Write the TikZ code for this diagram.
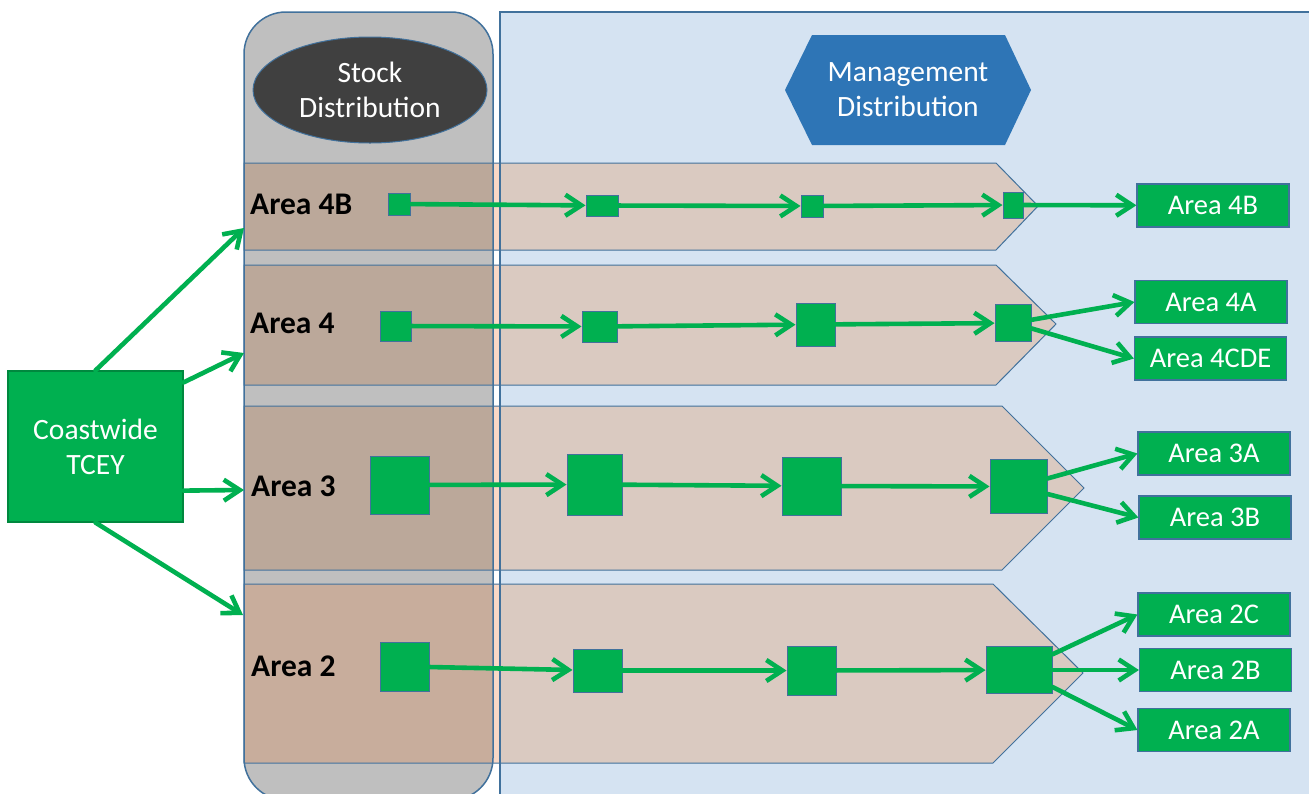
\documentclass[tikz,border=0pt]{standalone}
\usepackage{fontspec}
\setmainfont{Carlito}
\usetikzlibrary{arrows.meta,calc,shapes.geometric}

\definecolor{bgblue}{HTML}{D5E3F2}
\definecolor{edgeblue}{HTML}{41719C}
\definecolor{stockgray}{HTML}{BFBFBF}
\definecolor{bandonblue}{HTML}{DACAC1}
\definecolor{bandongray}{HTML}{BBA89A}
\definecolor{bandtwogray}{HTML}{C8AD9C}
\definecolor{bandstrip}{HTML}{F9D8C6}
\definecolor{darkoval}{HTML}{404040}
\definecolor{hexblue}{HTML}{2E75B6}
\definecolor{tceygreen}{HTML}{00B050}
\definecolor{tceyedge}{HTML}{00883E}

% area band: fill over the blue part, then the stock part and the gap strip
\newcommand{\areaband}[6]{%
  \fill[bandonblue] (244,#1) -- (#3,#1) -- (#4,#5) -- (#3,#2) -- (244,#2) -- cycle;
  \fill[#6] (244,#1) rectangle (493,#2);
  \fill[bandstrip] (493,#1) rectangle (500,#2);
  \draw[bandedge] (244,#1) -- (#3,#1) -- (#4,#5) -- (#3,#2) -- (244,#2) -- cycle;
}

\begin{document}
\begin{tikzpicture}[x=1pt,y=-1pt,
  flow/.style={draw=tceygreen, line width=4.6pt, line cap=round, line join=round,
    -{Straight Barb[length=16pt,width=21pt]}},
  sq/.style={draw=edgeblue, fill=tceygreen, line width=1pt, inner sep=0pt},
  lbl/.style={draw=edgeblue, fill=tceygreen, line width=1.2pt, text=white,
    minimum width=152pt, minimum height=43pt, inner sep=0pt,
    font=\fontsize{28.5}{34}\selectfont},
  arealbl/.style={anchor=west, inner sep=0pt, font=\bfseries\fontsize{31.5}{36}\selectfont},
  bandedge/.style={draw=edgeblue, line width=1pt},
  headtext/.style={text=white, align=center, font=\fontsize{29.5}{35}\selectfont},
]
\useasboundingbox (0,0) rectangle (1309,793);
\clip (0,0) rectangle (1309,793);
\fill[white] (0,0) rectangle (1309,793);

% management column and stock column
\fill[bgblue] (500,12) rectangle (1330,820);
\fill[stockgray, rounded corners=42pt] (244,12) rectangle (493,800);

% area bands
\areaband{163}{250}{996}{1038}{206}{bandongray}
\areaband{265}{385}{996}{1056}{324}{bandongray}
\areaband{406}{570}{1002}{1084}{488}{bandongray}
\areaband{584}{763}{993}{1083}{673}{bandtwogray}

% column outlines on top of the bands
\draw[edgeblue, line width=1.5pt] (500,820) -- (500,12) -- (1330,12);
\draw[edgeblue, line width=1.5pt, rounded corners=42pt] (244,12) rectangle (493,800);

% headers
\node[ellipse, draw=edgeblue, fill=darkoval, line width=1pt, minimum width=234pt,
  minimum height=106pt, inner sep=0pt] (sd) at (370,90) {};
\node[headtext] (sdt) at (370,90) {Stock\\Distribution};
\fill[hexblue] (785,90) -- (812,35) -- (1005,35) -- (1031,90) -- (1005,145) -- (812,145) -- cycle;
\node[headtext] (md) at (908,90) {Management\\Distribution};

% area names
\node[arealbl] (n4B) at (250,204) {Area 4B};
\node[arealbl] (n4) at (250,323) {Area 4};
\node[arealbl] (n3) at (251,486) {Area 3};
\node[arealbl] (n2) at (251,666) {Area 2};

% coastwide source
\node[draw=tceyedge, fill=tceygreen, line width=1.2pt, minimum width=175pt,
  minimum height=151pt, inner sep=0pt] (ct) at (95.5,446.5) {};
\node[headtext] (ctt) at (95.5,447) {Coastwide\\TCEY};

\coordinate (c4B) at (244,228);
\coordinate (c4) at (244,353);
\coordinate (c3) at (244,490);
\coordinate (c2) at (243,615);

\draw[flow] (ct.north) -- (c4B);
\draw[flow] ($(ct.north east)+(0,12)$) -- (c4);
\draw[flow] ($(ct.south east)+(0,-32)$) -- (c3);
\draw[flow] (ct.south) -- (c2);

% stock steps, area 4B
\node[sq, minimum width=22pt, minimum height=22pt] (a1) at (399,204) {};
\node[sq, minimum width=32pt, minimum height=21pt] (a2) at (602,205.5) {};
\node[sq, minimum width=22pt, minimum height=22pt] (a3) at (812,206) {};
\node[sq, minimum width=20pt, minimum height=26pt] (a4) at (1013,205) {};
% area 4
\node[sq, minimum width=31pt, minimum height=30pt] (b1) at (395.5,326) {};
\node[sq, minimum width=35pt, minimum height=31pt] (b2) at (599.5,326.5) {};
\node[sq, minimum width=39pt, minimum height=43pt] (b3) at (815.5,324.5) {};
\node[sq, minimum width=36pt, minimum height=37pt] (b4) at (1013,323) {};
% area 3
\node[sq, minimum width=59pt, minimum height=58pt] (c1) at (399.5,485) {};
\node[sq, minimum width=55pt, minimum height=61pt] (c2s) at (594.5,484.5) {};
\node[sq, minimum width=59pt, minimum height=58pt] (c3s) at (811.5,486) {};
\node[sq, minimum width=57pt, minimum height=54pt] (c4s) at (1018.5,486.5) {};
% area 2
\node[sq, minimum width=49pt, minimum height=49pt] (d1) at (404.5,666.5) {};
\node[sq, minimum width=49pt, minimum height=43pt] (d2) at (597.5,670.5) {};
\node[sq, minimum width=49pt, minimum height=49pt] (d3) at (811.5,670.5) {};
\node[sq, minimum width=66pt, minimum height=47pt] (d4) at (1019,670) {};

% management areas
\node[lbl] (l4B) at (1213,205.5) {Area 4B};
\node[lbl] (l4A) at (1211,302) {Area 4A};
\node[lbl] (l4CDE) at (1210.5,358.5) {Area 4CDE};
\node[lbl] (l3A) at (1214,453.5) {Area 3A};
\node[lbl] (l3B) at (1215,517.5) {Area 3B};
\node[lbl] (l2C) at (1214,614.5) {Area 2C};
\node[lbl] (l2B) at (1215.5,670) {Area 2B};
\node[lbl] (l2A) at (1214,730) {Area 2A};

% flows along the bands
\draw[flow] (a1) -- (a2);
\draw[flow] (a2) -- (a3);
\draw[flow] (a3) -- (a4);
\draw[flow] (a4) -- (l4B);

\draw[flow] (b1) -- (b2);
\draw[flow] (b2) -- (b3);
\draw[flow] (b3) -- (b4);
\draw[flow] (b4) -- (l4A.west);
\draw[flow] (b4) -- (l4CDE.west);

\draw[flow] (c1) -- (c2s);
\draw[flow] (c2s) -- (c3s);
\draw[flow] (c3s) -- (c4s);
\draw[flow] (c4s) -- (l3A.west);
\draw[flow] (c4s) -- (l3B.west);

\draw[flow] (d1) -- (d2);
\draw[flow] (d2) -- (d3);
\draw[flow] (d3) -- (d4);
\draw[flow] (d4) -- (l2C.west);
\draw[flow] (d4) -- (l2B.west);
\draw[flow] (d4) -- (l2A.west);
\end{tikzpicture}
\end{document}
